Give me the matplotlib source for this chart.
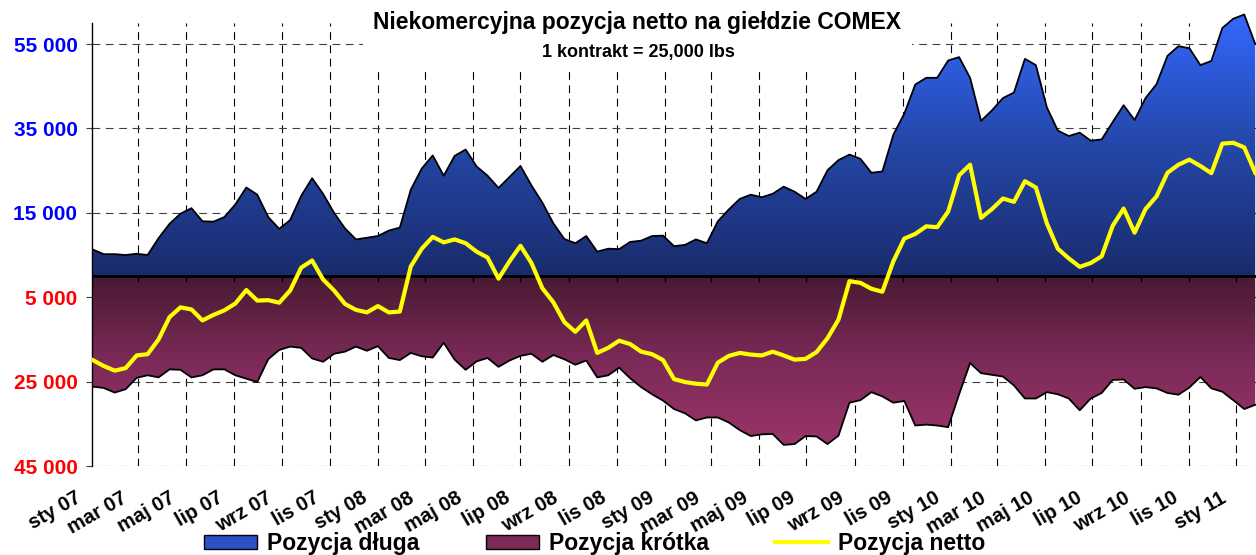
import matplotlib.pyplot as plt
import matplotlib.dates as mdates
import matplotlib.transforms as mtransforms
import numpy as np
import pandas as pd
from matplotlib.colors import LinearSegmentedColormap
from matplotlib.patches import Patch, Rectangle
from matplotlib.lines import Line2D

plt.rcParams['font.family'] = ['Liberation Sans', 'DejaVu Sans']
plt.rcParams['font.weight'] = 'bold'

# dane co dwa tygodnie, w tysiącach kontraktów
start_date = '2007-01-02'
long_k = [6.3, 5.2, 5.2, 5.0, 5.3, 5.0, 9.0, 12.4, 14.8, 16.1,
          13.0, 12.9, 14.0, 17.0, 21.0, 19.3, 14.0, 11.2, 13.3, 19.0,
          23.2, 19.5, 15.0, 11.3, 8.7, 9.1, 9.5, 10.8, 11.5, 20.5,
          25.5, 28.6, 23.8, 28.5, 30.0, 26.0, 23.8, 20.9, 23.5, 26.1,
          21.5, 17.4, 12.5, 8.8, 7.8, 9.5, 5.8, 6.5, 6.4, 8.1,
          8.4, 9.5, 9.6, 7.1, 7.4, 8.7, 7.8, 13.0, 15.8, 18.3,
          19.3, 18.7, 19.5, 21.2, 20.0, 18.3, 20.0, 25.1, 27.5, 28.8,
          27.8, 24.5, 24.8, 33.5, 38.5, 45.4, 47.0, 47.0, 51.1, 51.9,
          47.0, 36.8, 39.3, 42.2, 43.5, 51.5, 50.0, 40.0, 34.5, 33.2,
          34.0, 32.1, 32.4, 36.5, 40.5, 37.0, 42.2, 45.5, 52.2, 54.5,
          54.0, 50.0, 51.0, 58.8, 61.0, 62.0, 55.0]
short_k = [26.2, 26.5, 27.6, 26.8, 24.1, 23.5, 24.0, 22.1, 22.2, 24.0,
           23.5, 22.1, 22.1, 23.5, 24.3, 25.1, 19.7, 17.5, 16.7, 17.0,
           19.5, 20.3, 18.4, 17.9, 16.7, 17.7, 16.6, 19.4, 19.9, 18.2,
           19.0, 19.3, 15.8, 19.8, 22.2, 20.2, 19.4, 21.5, 20.0, 18.9,
           18.4, 20.3, 18.7, 19.7, 21.0, 20.0, 24.0, 23.5, 21.7, 24.2,
           26.3, 28.0, 29.5, 31.5, 32.5, 34.2, 33.5, 33.5, 34.7, 36.5,
           37.9, 37.5, 37.4, 40.0, 39.8, 37.9, 38.0, 39.8, 37.8, 30.0,
           29.4, 27.5, 28.5, 30.0, 29.6, 35.4, 35.2, 35.4, 35.8, 28.0,
           20.6, 23.0, 23.4, 23.8, 25.9, 29.0, 29.0, 27.5, 28.0, 29.0,
           31.8, 29.0, 27.7, 24.6, 24.5, 26.7, 26.3, 26.6, 27.7, 28.1,
           26.4, 23.9, 26.6, 27.4, 29.4, 31.5, 30.5]

tick_labels = ['sty 07', 'mar 07', 'maj 07', 'lip 07', 'wrz 07', 'lis 07',
               'sty 08', 'mar 08', 'maj 08', 'lip 08', 'wrz 08', 'lis 08',
               'sty 09', 'mar 09', 'maj 09', 'lip 09', 'wrz 09', 'lis 09',
               'sty 10', 'mar 10', 'maj 10', 'lip 10', 'wrz 10', 'lis 10',
               'sty 11']
y_ticks = [55000, 35000, 15000, -5000, -25000, -45000]
y_labels = ['55 000', '35 000', '15 000', '5 000', '25 000', '45 000']

dates = pd.date_range(start_date, periods=len(long_k), freq='14D')
tick_dates = pd.date_range('2007-01-01', periods=len(tick_labels), freq='2MS')
long_v = np.array(long_k) * 1000
short_v = -np.array(short_k) * 1000
net_v = long_v + short_v

fig = plt.figure(figsize=(12.56, 5.55), dpi=100)
ax = fig.add_axes([92 / 1256, 89 / 555, 1164 / 1256, 453.6 / 555])
ax.set_axisbelow(True)

x0 = mdates.date2num(pd.Timestamp('2007-01-01'))
x1 = mdates.date2num(pd.Timestamp('2011-01-26'))

# wypełnienia z gradientem
cm_long = LinearSegmentedColormap.from_list('l', ['#1a2b6c', '#2447a8', '#3468ff'])
cm_short = LinearSegmentedColormap.from_list('s', ['#9a3467', '#7c2a58', '#481a32'])
grad = np.linspace(0, 1, 256).reshape(-1, 1)

poly_l = ax.fill_between(dates, 0, long_v, facecolor='none', edgecolor='none')
im_l = ax.imshow(grad, extent=[x0, x1, 0, long_v.max()], origin='lower',
                 aspect='auto', cmap=cm_long, zorder=1)
im_l.set_clip_path(poly_l.get_paths()[0], transform=ax.transData)

poly_s = ax.fill_between(dates, short_v, 0, facecolor='none', edgecolor='none')
im_s = ax.imshow(grad, extent=[x0, x1, short_v.min(), 0], origin='lower',
                 aspect='auto', cmap=cm_short, zorder=1)
im_s.set_clip_path(poly_s.get_paths()[0], transform=ax.transData)

ax.plot(dates, long_v, color='black', lw=1.3, zorder=3)
ax.plot(dates, short_v, color='black', lw=1.3, zorder=3)
ax.axhline(0, color='black', lw=2, zorder=3.5)
ax.vlines(tick_dates, -1300, 0, colors='black', lw=1, zorder=3.5)
ax.plot(dates, net_v, color='#ffff00', lw=3, zorder=4, solid_joinstyle='round')

# siatka
ax.set_yticks(y_ticks)
ax.set_yticklabels(y_labels, fontsize=15)
for lbl, v in zip(ax.get_yticklabels(), y_ticks):
    lbl.set_color('#0000ff' if v > 0 else '#ff0000')
ax.yaxis.grid(True, linestyle=(0, (7, 5)), color='#404040', lw=0.8)
ax.vlines(tick_dates[1:], -45000, 60000, colors='black',
          linestyles=(0, (7, 5)), lw=0.8, zorder=0.5)
ax.tick_params(axis='y', length=4.5, width=0.8, color='#404040', pad=6)

ax.set_xticks(tick_dates)
ax.set_xticklabels(tick_labels, rotation=30, ha='right', va='top',
                   rotation_mode='anchor', fontsize=14.5)
ax.tick_params(axis='x', length=0, pad=16)
offset = mtransforms.ScaledTranslation(-17 / 100, 0, fig.dpi_scale_trans)
for lbl in ax.get_xticklabels():
    lbl.set_transform(lbl.get_transform() + offset)

ax.set_xlim(x0, x1)
ax.set_ylim(-45000, 62500)
for s in ['top', 'right', 'bottom']:
    ax.spines[s].set_visible(False)
ax.spines['left'].set_bounds(-45000, 60000)
ax.spines['left'].set_linewidth(1)

# tło tytułu zasłania siatkę
fig.add_artist(Rectangle((363 / 1256, 1 - 72 / 555), 549 / 1256, 72 / 555,
                         transform=fig.transFigure, facecolor='white',
                         edgecolor='none', zorder=1))
fig.text(0.507, 1 - 23 / 555, 'Niekomercyjna pozycja netto na giełdzie COMEX',
         ha='center', va='center', fontsize=16.5, fontweight='bold')
fig.text(0.508, 1 - 52 / 555, '1 kontrakt = 25,000 lbs',
         ha='center', va='center', fontsize=13, fontweight='bold')

handles = [Patch(facecolor='#2b50c8', edgecolor='black', lw=1),
           Patch(facecolor='#7a2a55', edgecolor='black', lw=1),
           Line2D([], [], color='#ffff00', lw=3)]
fig.legend(handles, ['Pozycja długa', 'Pozycja krótka', 'Pozycja netto'],
           loc='upper left', bbox_to_anchor=(204 / 1256, 1 - 532 / 555),
           ncol=3, frameon=False, fontsize=16.5, handlelength=2.3,
           handleheight=0.6, handletextpad=0.45, columnspacing=2.9,
           borderpad=0, borderaxespad=0)

fig.savefig('out.png', dpi=100)
